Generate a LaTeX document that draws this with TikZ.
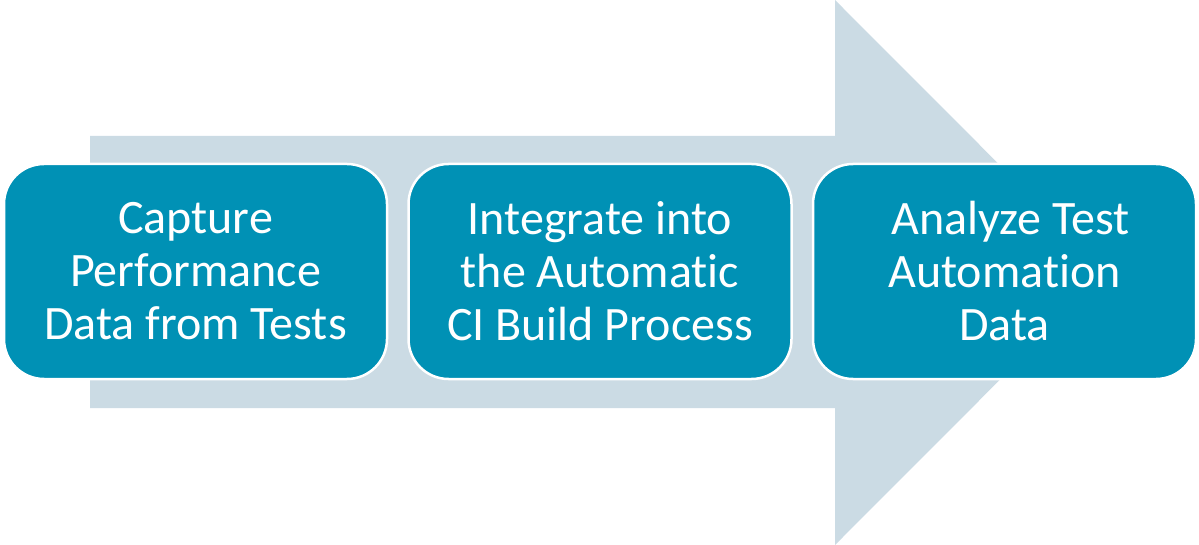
\documentclass[tikz,border=0pt]{standalone}
\usepackage{fontspec}
\setmainfont[Ligatures=NoCommon]{Carlito}
\usetikzlibrary{positioning}

\definecolor{stepteal}{RGB}{0,145,181}
\definecolor{flowgrey}{RGB}{203,219,228}

\begin{document}
\begin{tikzpicture}[
  x=1pt, y=-1pt,
  node distance=19pt,
  every node/.style={font=\fontsize{48}{53}\selectfont, text=white},
  stepbox/.style={draw=white, line width=2.5pt, fill=stepteal, rounded corners=40pt, align=center, minimum width=383pt, minimum height=215pt, inner sep=0pt}
]
\useasboundingbox (0,0) rectangle (1199,545);

% Background flow arrow
\fill[flowgrey] (90,136) -- (835,136) -- (835,0) -- (1107,272.5) -- (835,545) -- (835,408) -- (90,408) -- cycle;

% Steps
\node[stepbox] (capture) at (195.5,271.5) {Capture\\Performance\\Data from Tests};
\node[stepbox, right=of capture] (integrate) {Integrate into\\the Automatic\\CI Build Process};
\node[stepbox, right=of integrate] (analyze) {\hspace*{12pt}Analyze Test\\Automation\\Data};
\end{tikzpicture}
\end{document}
